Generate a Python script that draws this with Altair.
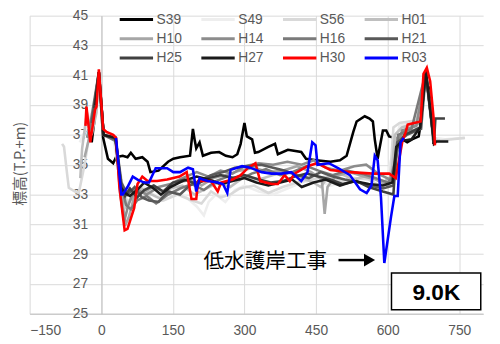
import altair as alt
import pandas as pd

series = ["S39", "S49", "S56", "H01", "H10", "H14", "H16", "H21", "H25", "H27", "H30", "R03"]
colors = ["#000000", "#eeeeee", "#d9d9d9", "#bfbfbf", "#a6a6a6", "#8c8c8c",
          "#7a7a7a", "#595959", "#404040", "#1a1a1a", "#ff0000", "#0000ff"]

S39_x = [-20, -12, -5, 4, 14, 25, 31, 45, 55, 62, 72, 86, 97, 103, 120, 140, 151, 165, 186, 192, 196, 199, 206, 213, 230, 247, 261, 275, 285, 292, 300, 305, 316, 322, 329, 350, 364, 370, 391, 419, 429, 450, 480, 500, 514, 528, 535, 552, 562, 569, 573, 579, 583, 590, 597, 603, 614, 631, 641, 651, 665, 669, 676, 686, 696]
S39_y = [36.5, 38.6, 41.2, 36.8, 35.4, 35.1, 35.5, 35.6, 35.5, 35.8, 35.4, 35.5, 35.2, 34.5, 34.6, 35.2, 35.4, 35.5, 35.6, 37.4, 36.6, 36.1, 36.5, 35.6, 35.8, 35.85, 35.6, 35.5, 35.7, 36.4, 37.8, 36.9, 36.7, 35.8, 35.85, 36.2, 36.4, 35.7, 36.0, 35.85, 35.4, 35.3, 35.2, 35.3, 35.6, 37.2, 37.9, 38.25, 38.1, 37.9, 36.7, 35.4, 36.1, 37.3, 37.3, 36.9, 36.8, 36.7, 36.5, 36.7, 36.9, 37.7, 40.4, 40.2, 36.4]

S49_x = [-45, -30, -15, -5, 5, 25, 40, 55, 70, 90, 110, 130, 150, 175, 200, 215, 225, 240, 260, 280, 300, 330, 360, 390, 420, 450, 480, 510, 540, 570, 600, 615, 625, 650, 668, 680, 695, 720, 760]
S49_y = [36.5, 37.5, 39.0, 41.0, 37.0, 36.8, 34.0, 33.0, 33.3, 33.5, 33.0, 32.8, 33.2, 32.9, 32.2, 31.6, 32.5, 33.0, 32.5, 33.3, 33.6, 33.2, 33.0, 33.4, 33.8, 34.0, 33.6, 33.8, 34.0, 34.2, 34.3, 36.5, 37.6, 37.8, 38.0, 41.0, 36.8, 36.7, 36.8]

S56_x = [-82, -78, -72, -68, -55, -47, -35, -20, -5, 5, 30, 40, 55, 70, 90, 110, 130, 160, 190, 210, 230, 250, 270, 290, 320, 350, 380, 410, 440, 470, 500, 530, 560, 590, 605, 612, 625, 645, 668, 680, 694, 705, 735, 762]
S56_y = [36.4, 36.2, 34.5, 33.45, 33.2, 33.1, 35.0, 38.0, 41.2, 37.2, 36.8, 33.8, 32.5, 33.0, 33.2, 32.5, 32.6, 33.0, 32.6, 32.4, 33.2, 32.8, 33.0, 33.4, 33.6, 33.1, 33.5, 33.8, 34.0, 34.2, 33.9, 34.1, 34.0, 33.5, 34.0, 37.5, 37.8, 37.9, 38.0, 41.2, 37.0, 36.6, 36.7, 36.8]

H01_x = [-44, -40, -30, -20, -10, -5, 5, 30, 42, 52, 65, 85, 105, 125, 145, 170, 195, 220, 245, 270, 300, 330, 360, 390, 420, 445, 460, 475, 500, 530, 560, 590, 608, 615, 630, 660, 680, 697, 710]
H01_y = [34.1, 36.1, 38.5, 37.0, 38.5, 41.2, 37.0, 36.7, 34.0, 32.2, 32.8, 33.4, 33.0, 32.7, 33.4, 33.6, 33.0, 33.4, 33.8, 33.5, 34.2, 34.0, 34.3, 34.5, 34.1, 33.8, 33.5, 34.2, 34.4, 34.0, 34.3, 33.8, 34.2, 37.0, 37.5, 37.8, 41.1, 36.6, 36.6]

H10_x = [-35, -20, -5, 5, 30, 42, 50, 58, 70, 90, 110, 130, 160, 190, 210, 235, 260, 290, 320, 350, 380, 410, 440, 462, 468, 474, 490, 520, 550, 575, 600, 612, 620, 640, 668, 680, 697]
H10_y = [35.5, 37.5, 41.2, 37.0, 36.6, 33.5, 30.9, 31.5, 33.0, 33.2, 33.5, 33.2, 33.8, 34.0, 33.6, 34.1, 34.3, 34.6, 34.8, 34.5, 34.6, 34.9, 34.5, 34.0, 31.7, 33.5, 34.2, 34.5, 34.2, 34.0, 33.6, 34.0, 36.8, 37.3, 37.8, 41.0, 36.5]

H14_x = [-30, -15, -5, 5, 30, 40, 48, 56, 70, 95, 120, 145, 170, 200, 225, 250, 275, 300, 330, 360, 390, 420, 445, 470, 500, 530, 555, 580, 605, 618, 630, 660, 680, 697]
H14_y = [36.8, 38.6, 41.2, 37.0, 36.7, 33.0, 31.2, 32.2, 33.4, 33.0, 33.5, 33.7, 34.1, 34.5, 34.2, 34.6, 34.4, 34.9, 35.1, 35.0, 35.2, 35.0, 35.3, 34.8, 34.6, 34.9, 35.0, 34.4, 34.0, 35.5, 37.3, 37.6, 41.2, 36.5]

H16_x = [-25, -5, 5, 30, 42, 52, 62, 75, 95, 115, 140, 165, 190, 215, 240, 265, 290, 315, 345, 375, 400, 430, 455, 485, 515, 545, 575, 600, 615, 622, 650, 680, 697]
H16_y = [37.3, 41.2, 37.0, 36.6, 33.6, 32.3, 32.0, 32.6, 32.9, 32.4, 33.0, 33.4, 33.7, 33.3, 33.9, 34.2, 34.0, 34.4, 34.7, 34.3, 34.5, 34.9, 34.6, 34.3, 34.6, 34.4, 34.1, 33.8, 34.3, 37.0, 37.4, 41.2, 36.5]

H21_x = [-20, -5, 5, 30, 42, 55, 70, 85, 100, 120, 140, 165, 185, 205, 230, 255, 280, 305, 335, 360, 385, 410, 435, 460, 485, 510, 540, 565, 590, 612, 620, 640, 670, 680, 697]
H21_y = [37.8, 41.2, 37.0, 36.7, 33.8, 33.0, 33.5, 32.8, 32.6, 32.5, 33.2, 33.0, 33.6, 33.9, 34.3, 34.5, 34.8, 34.9, 35.0, 34.8, 34.6, 34.3, 34.1, 34.5, 34.2, 34.0, 33.8, 33.6, 33.4, 33.6, 36.5, 37.0, 37.4, 41.2, 36.5]

H25_x = [-15, -5, 5, 30, 42, 50, 60, 75, 90, 110, 130, 150, 175, 200, 225, 250, 275, 300, 330, 355, 380, 405, 430, 455, 480, 505, 535, 560, 590, 612, 618, 635, 668, 680, 697, 700, 720]
H25_y = [38.8, 41.2, 37.0, 36.8, 33.5, 32.9, 33.4, 32.8, 33.3, 33.6, 33.2, 33.8, 34.0, 33.7, 34.1, 34.3, 34.1, 34.3, 34.0, 33.8, 33.9, 34.2, 34.4, 34.2, 34.0, 33.7, 33.9, 33.5, 33.2, 33.0, 36.0, 37.0, 37.5, 41.2, 36.5, 38.1, 38.1]

H27_x = [-12, -5, 5, 30, 40, 50, 60, 75, 90, 110, 125, 145, 170, 200, 225, 250, 275, 300, 325, 350, 375, 400, 420, 445, 470, 500, 530, 560, 590, 610, 618, 630, 650, 668, 680, 690, 697, 702, 727]
H27_y = [39.0, 41.2, 37.0, 36.8, 33.5, 33.1, 32.9, 33.3, 33.8, 33.4, 33.0, 33.5, 33.9, 34.2, 34.0, 33.7, 33.9, 34.1, 33.8, 33.6, 33.8, 34.0, 33.5, 33.8, 34.0, 33.6, 33.9, 33.7, 33.6, 33.8, 36.2, 36.6, 36.7, 37.5, 41.3, 38.5, 36.4, 36.55, 36.55]

H30_x = [-33, -31, -23, -13, -10, -5, 4, 11, 25, 31, 38, 49, 55, 69, 76, 86, 97, 117, 138, 164, 179, 189, 199, 203, 230, 244, 251, 275, 292, 308, 323, 333, 357, 370, 384, 395, 405, 432, 452, 480, 521, 569, 603, 617, 631, 638, 642, 669, 675, 682, 689, 696, 699]
H30_y = [37.6, 38.9, 36.5, 38.7, 38.9, 41.4, 37.4, 37.2, 37.0, 36.8, 33.5, 30.6, 30.7, 32.1, 33.7, 34.2, 33.9, 33.9, 34.0, 34.2, 34.5, 32.7, 32.7, 33.9, 33.9, 33.2, 33.8, 34.0, 34.3, 34.8, 35.1, 33.9, 33.7, 33.7, 34.3, 33.9, 34.4, 34.9, 35.1, 34.65, 34.5, 34.4, 34.4, 34.1, 36.6, 37.2, 37.7, 37.9, 41.1, 41.5, 40.6, 38.2, 36.3]

R03_x = [31, 42, 45, 55, 66, 76, 90, 100, 114, 138, 151, 165, 182, 192, 199, 206, 213, 223, 244, 255, 264, 271, 295, 312, 336, 357, 377, 398, 419, 432, 442, 449, 453, 477, 497, 521, 542, 556, 566, 573, 579, 586, 593, 607, 614, 621, 627, 634]
R03_y = [36.8, 33.0, 33.0, 33.5, 34.2, 34.0, 33.8, 33.8, 34.76, 34.76, 34.5, 34.5, 34.8, 34.7, 33.2, 34.1, 34.0, 33.9, 33.8, 33.7, 33.1, 34.65, 34.9, 34.8, 34.5, 34.4, 34.4, 34.5, 33.9, 34.5, 36.5, 36.3, 35.0, 35.1, 34.76, 34.3, 33.35, 33.1, 33.6, 35.6, 35.3, 32.8, 28.4, 31.5, 32.9, 32.9, 36.5, 36.8]

xs = [S39_x, S49_x, S56_x, H01_x, H10_x, H14_x, H16_x, H21_x, H25_x, H27_x, H30_x, R03_x]
ys = [S39_y, S49_y, S56_y, H01_y, H10_y, H14_y, H16_y, H21_y, H25_y, H27_y, H30_y, R03_y]

x_ticks = [-150, 0, 150, 300, 450, 600, 750]
y_ticks = [25, 27, 29, 31, 33, 35, 37, 39, 41, 43, 45]

# annotations
note_text = ["低水護岸工事"]
note_x = [214]
note_y = [28.45]
arrow_x = [497]
arrow_x2 = [562]
arrow_y = [28.6]
box_label = ["9.0K"]
box_x = [608]
box_x2 = [795]
box_y = [25.26]
box_y2 = [27.73]
label_x = [702]
label_y = [26.4]

rows = []
for s, xv, yv in zip(series, xs, ys):
    for i, (a, b) in enumerate(zip(xv, yv)):
        rows.append({"series": s, "x": a, "y": b, "i": i})
df = pd.DataFrame(rows)

FONT = "Liberation Sans, Noto Sans CJK JP"

x_enc = alt.X("x:Q", scale=alt.Scale(domain=[-150, 800], nice=False, zero=False),
              axis=alt.Axis(values=x_ticks, title=None, grid=True, gridColor="#d9d9d9",
                            domainColor="#bfbfbf", ticks=False, labelFontSize=14,
                            labelColor="#595959", labelPadding=10, labelFont=FONT))
y_enc = alt.Y("y:Q", scale=alt.Scale(domain=[25, 45], nice=False, zero=False),
              axis=alt.Axis(values=y_ticks, title="標高(T.P.+m)", offset=-73, grid=True,
                            gridColor="#d9d9d9", domainColor="#bfbfbf", ticks=False,
                            labelPadding=14, labelFontSize=14, labelColor="#595959",
                            labelFont=FONT, titleX=-83, titleY=150, titleFontSize=15,
                            titleColor="#595959", titleFontWeight="normal",
                            titleFont="Noto Sans CJK JP", titleAngle=270,
                            titleAlign="center", titleBaseline="middle"))

lines = alt.Chart(df).mark_line(strokeWidth=2.6).encode(
    x=x_enc,
    y=y_enc,
    color=alt.Color("series:N", scale=alt.Scale(domain=series, range=colors),
                    legend=alt.Legend(orient="none", legendX=90, legendY=-4, columns=4,
                                      direction="horizontal",
                                      title=None, symbolType="stroke", symbolSize=1150,
                                      symbolStrokeWidth=3, clipHeight=16, rowPadding=3.5,
                                      columnPadding=18, labelOffset=2, labelFontSize=14,
                                      labelColor="#595959", labelFont=FONT)),
    detail="series:N",
    order=alt.Order("i:Q"),
)

note = alt.Chart(pd.DataFrame({"x": note_x, "y": note_y, "t": note_text})).mark_text(
    align="left", baseline="middle", fontSize=21, font="Noto Sans CJK JP", color="#000000"
).encode(x=x_enc, y=y_enc, text="t:N")

arrow = alt.Chart(pd.DataFrame({"x": arrow_x, "x2": arrow_x2, "y": arrow_y})).mark_rule(
    color="#000000", strokeWidth=2.5
).encode(x=x_enc, x2="x2:Q", y=y_enc)

head = alt.Chart(pd.DataFrame({"x": arrow_x2, "y": arrow_y})).mark_point(
    shape="triangle-right", filled=True, size=170, color="#000000", opacity=1
).encode(x=x_enc, y=y_enc)

box = alt.Chart(pd.DataFrame({"x": box_x, "x2": box_x2, "y": box_y, "y2": box_y2})).mark_rect(
    fill="#ffffff", stroke="#000000", strokeWidth=1.5
).encode(x=x_enc, x2="x2:Q", y=y_enc, y2="y2:Q")

label = alt.Chart(pd.DataFrame({"x": label_x, "y": label_y, "t": box_label})).mark_text(
    align="center", baseline="middle", fontSize=23, fontWeight="bold", font=FONT, color="#000000"
).encode(x=x_enc, y=y_enc, text="t:N")

chart = alt.layer(lines, note, arrow, head, box, label).properties(
    width=461, height=303,
    autosize=alt.AutoSizeParams(type="none"),
    padding={"left": 22, "top": 5, "right": 9, "bottom": 28},
).configure_view(stroke=None)

chart.save("out.html", embed_options={"renderer": "svg", "actions": False})
